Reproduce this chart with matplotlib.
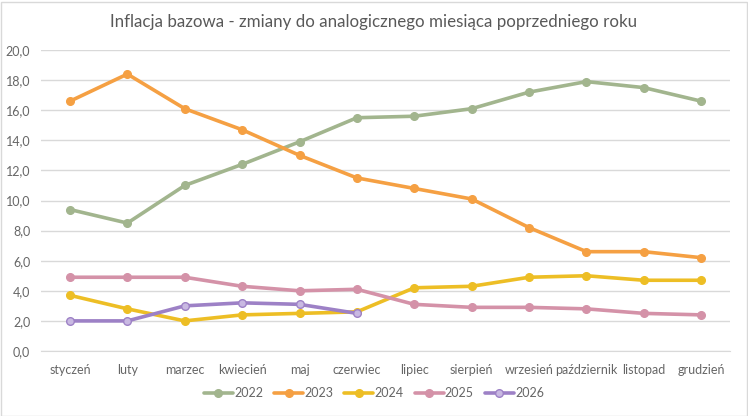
import matplotlib
matplotlib.use("Agg")
import matplotlib.pyplot as plt
from matplotlib.patches import Rectangle

plt.rcParams['font.family'] = ['Lato', 'DejaVu Sans']

months = ["styczeń", "luty", "marzec", "kwiecień", "maj", "czerwiec", "lipiec",
          "sierpień", "wrzesień", "październik", "listopad", "grudzień"]
y2022 = [9.4, 8.5, 11.0, 12.4, 13.9, 15.5, 15.6, 16.1, 17.2, 17.9, 17.5, 16.6]
y2023 = [16.6, 18.4, 16.1, 14.7, 13.0, 11.5, 10.8, 10.1, 8.2, 6.6, 6.6, 6.2]
y2024 = [3.7, 2.8, 2.0, 2.4, 2.5, 2.6, 4.2, 4.3, 4.9, 5.0, 4.7, 4.7]
y2025 = [4.9, 4.9, 4.9, 4.3, 4.0, 4.1, 3.1, 2.9, 2.9, 2.8, 2.5, 2.4]
y2026 = [2.0, 2.0, 3.0, 3.2, 3.1, 2.5]
yticks = [0, 2, 4, 6, 8, 10, 12, 14, 16, 18, 20]

series = [
    ("2022", y2022, "#A2B58E", "#A2B58E"),
    ("2023", y2023, "#F5A043", "#F5A043"),
    ("2024", y2024, "#EDBE25", "#EDBE25"),
    ("2025", y2025, "#D492A8", "#D492A8"),
    ("2026", y2026, "#9D81C6", "#C9B9E2"),
]

fig = plt.figure(figsize=(7.48, 4.16), dpi=100)
fig.patches.append(Rectangle((0.5/748, 0.5/416), 746/748, 414/416, transform=fig.transFigure,
                             fill=False, edgecolor="#D9D9D9", linewidth=1))
ax = fig.add_axes([41.3/748, 1 - 351/416, 688.6/748, 301/416])

x = list(range(len(months)))
for name, vals, col, mfc in series:
    ax.plot(x[:len(vals)], vals, color=col, linewidth=2.6, marker="o", markersize=5.5,
            markerfacecolor=mfc, markeredgecolor=col, markeredgewidth=1, label=name,
            solid_capstyle="round")

ax.set_xlim(-0.5, 11.5)
ax.set_ylim(0, 20)
ax.set_yticks(yticks)
ax.set_yticklabels([f"{v:.1f}".replace(".", ",") for v in yticks])
ax.set_xticks(x)
ax.set_xticklabels(months)
ax.tick_params(axis="both", length=0, labelsize=9, colors="#666666")
ax.tick_params(axis="x", pad=9)
ax.tick_params(axis="y", pad=8)
ax.grid(axis="y", color="#D9D9D9", linewidth=1)
ax.set_axisbelow(True)
for s in ["top", "right", "left"]:
    ax.spines[s].set_visible(False)
ax.spines["bottom"].set_color("#D9D9D9")

fig.text(0.5, 1 - 22/416, "Inflacja bazowa - zmiany do analogicznego miesiąca poprzedniego roku",
         ha="center", va="center", fontsize=12.2, color="#595959")

leg = fig.legend(loc="center", bbox_to_anchor=(0.5, 1 - 393/416), ncol=5, frameon=False,
                 fontsize=9, handlelength=2.3, columnspacing=0.9, handletextpad=0.1)
for t in leg.get_texts():
    t.set_color("#666666")

fig.savefig("out.png", dpi=100)
